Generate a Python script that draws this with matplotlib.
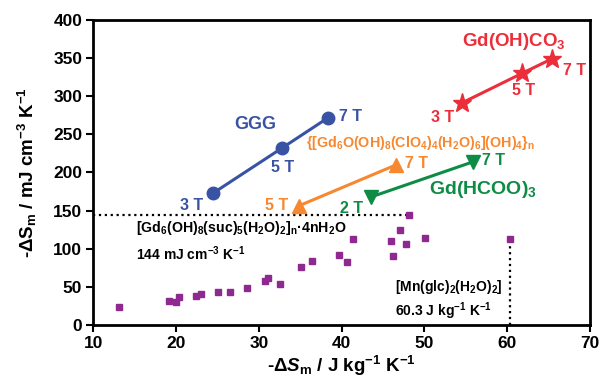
import matplotlib

matplotlib.use("Agg")
import matplotlib.pyplot as plt

BLUE = "#3953a4"
RED = "#ec2d3a"
ORANGE = "#f7882f"
GREEN = "#0e8c45"
PURPLE = "#8e2a8f"

plt.rcParams.update({
    "font.family": ["Liberation Sans", "DejaVu Sans"],
    "font.weight": "bold",
    "axes.labelweight": "bold",
    "mathtext.fontset": "custom",
    "mathtext.rm": "Liberation Sans:bold",
    "mathtext.it": "Liberation Sans:bold:italic",
    "mathtext.bf": "Liberation Sans:bold",
})

# -dS_m in J kg-1 K-1 (x) and mJ cm-3 K-1 (y)
ggg_x = [24.5, 32.8, 38.4]
ggg_y = [173, 232, 272]
ggg_fields = ["3 T", "5 T", "7 T"]

co3_x = [54.5, 61.8, 65.4]
co3_y = [291, 330, 349]
co3_fields = ["3 T", "5 T", "7 T"]

clo4_x = [34.8, 46.6]
clo4_y = [156, 210]
clo4_fields = ["5 T", "7 T"]

hcoo_x = [43.6, 55.9]
hcoo_y = [168, 214]
hcoo_fields = ["2 T", "7 T"]

other_x = [13.1, 19.1, 20.0, 20.4, 22.4, 23.0, 25.1, 26.5, 28.6, 30.8, 31.1,
           32.6, 35.1, 36.4, 39.7, 40.6, 41.4, 46.0, 47.0, 46.2, 47.8, 48.1,
           50.1, 60.3]
other_y = [23, 31, 30, 36, 38.5, 41, 42.5, 43.5, 48, 58, 61, 54, 76.5, 83.5,
           91.5, 83, 113, 110, 125, 90, 106, 144, 114, 112]

suc_x, suc_y = 48.1, 144
glc_x, glc_y = 60.3, 112

x_ticks = list(range(10, 71, 10))
y_ticks = list(range(0, 401, 50))

fig = plt.figure(figsize=(6.02, 3.84), dpi=100)
ax = fig.add_axes([0.155, 0.154, 0.825, 0.794])

ax.plot(ggg_x, ggg_y, "-o", color=BLUE, lw=2.2, ms=9, zorder=3)
ax.plot(co3_x, co3_y, "-*", color=RED, lw=2.2, ms=14, zorder=3)
ax.plot(clo4_x, clo4_y, "-^", color=ORANGE, lw=2.2, ms=9.5, zorder=3)
ax.plot(hcoo_x, hcoo_y, "-v", color=GREEN, lw=2.2, ms=9.5, zorder=3)
ax.plot(other_x, other_y, "s", color=PURPLE, ms=4.5, ls="none", zorder=3)

# reference lines for the two highlighted compounds
ax.plot([10, suc_x], [suc_y, suc_y], ls=":", color="black", lw=1.6, zorder=2)
ax.plot([glc_x, glc_x], [0, glc_y], ls=":", color="black", lw=1.6, zorder=2)

fs_T = 11.5
# GGG
ax.text(21.9, 157, ggg_fields[0], color=BLUE, fontsize=fs_T, ha="center", va="center")
ax.text(32.9, 207, ggg_fields[1], color=BLUE, fontsize=fs_T, ha="center", va="center")
ax.text(39.7, 273, ggg_fields[2], color=BLUE, fontsize=fs_T, ha="left", va="center")
ax.text(29.6, 263, "GGG", color=BLUE, fontsize=13, ha="center", va="center")

# Gd(OH)CO3
ax.text(52.2, 272, co3_fields[0], color=RED, fontsize=fs_T, ha="center", va="center")
ax.text(62.0, 307, co3_fields[1], color=RED, fontsize=fs_T, ha="center", va="center")
ax.text(68.1, 334, co3_fields[2], color=RED, fontsize=fs_T, ha="center", va="center")
ax.text(60.8, 372, "Gd(OH)CO$_3$", color=RED, fontsize=13.5, ha="center", va="center")

# {[Gd6O(OH)8(ClO4)4(H2O)6](OH)4}n
ax.text(32.1, 156, clo4_fields[0], color=ORANGE, fontsize=fs_T, ha="center", va="center")
ax.text(47.6, 212, clo4_fields[1], color=ORANGE, fontsize=fs_T, ha="left", va="center")
ax.text(49.5, 238,
        "{[Gd$_6$O(OH)$_8$(ClO$_4$)$_4$(H$_2$O)$_6$](OH)$_4$}$_\\mathrm{n}$",
        color=ORANGE, fontsize=10.3, ha="center", va="center")

# Gd(HCOO)3
ax.text(41.2, 153, hcoo_fields[0], color=GREEN, fontsize=fs_T, ha="center", va="center")
ax.text(57.0, 215, hcoo_fields[1], color=GREEN, fontsize=fs_T, ha="left", va="center")
ax.text(50.6, 177, "Gd(HCOO)$_3$", color=GREEN, fontsize=14, ha="left", va="center")

# annotations for the dotted references
ax.text(15.2, 127,
        "[Gd$_6$(OH)$_8$(suc)$_5$(H$_2$O)$_2$]$_\\mathrm{n}$·4nH$_2$O",
        fontsize=10.2, ha="left", va="center")
ax.text(15.2, 94, "144 mJ cm$^{-3}$ K$^{-1}$", fontsize=10, ha="left", va="center")
ax.text(46.4, 50, "[Mn(glc)$_2$(H$_2$O)$_2$]", fontsize=10, ha="left", va="center")
ax.text(46.4, 17.5, "60.3 J kg$^{-1}$ K$^{-1}$", fontsize=10, ha="left", va="center")

ax.set_xlim(10, 70)
ax.set_ylim(0, 400)
ax.set_xticks(x_ticks, [str(t) for t in x_ticks], fontweight="bold")
ax.set_yticks(y_ticks, [str(t) for t in y_ticks], fontweight="bold")
ax.tick_params(direction="out", length=5, width=1.5, labelsize=12.5, pad=3)
for sp in ax.spines.values():
    sp.set_linewidth(2)

ax.set_xlabel("-Δ$S_\\mathrm{m}$ / J kg$^{-1}$ K$^{-1}$", fontsize=13.5, labelpad=2)
ax.set_ylabel("-Δ$\\mathrm{S_m}$ / mJ cm$^{-3}$ K$^{-1}$", fontsize=13.5, labelpad=10)

fig.savefig("out.png", dpi=100)
